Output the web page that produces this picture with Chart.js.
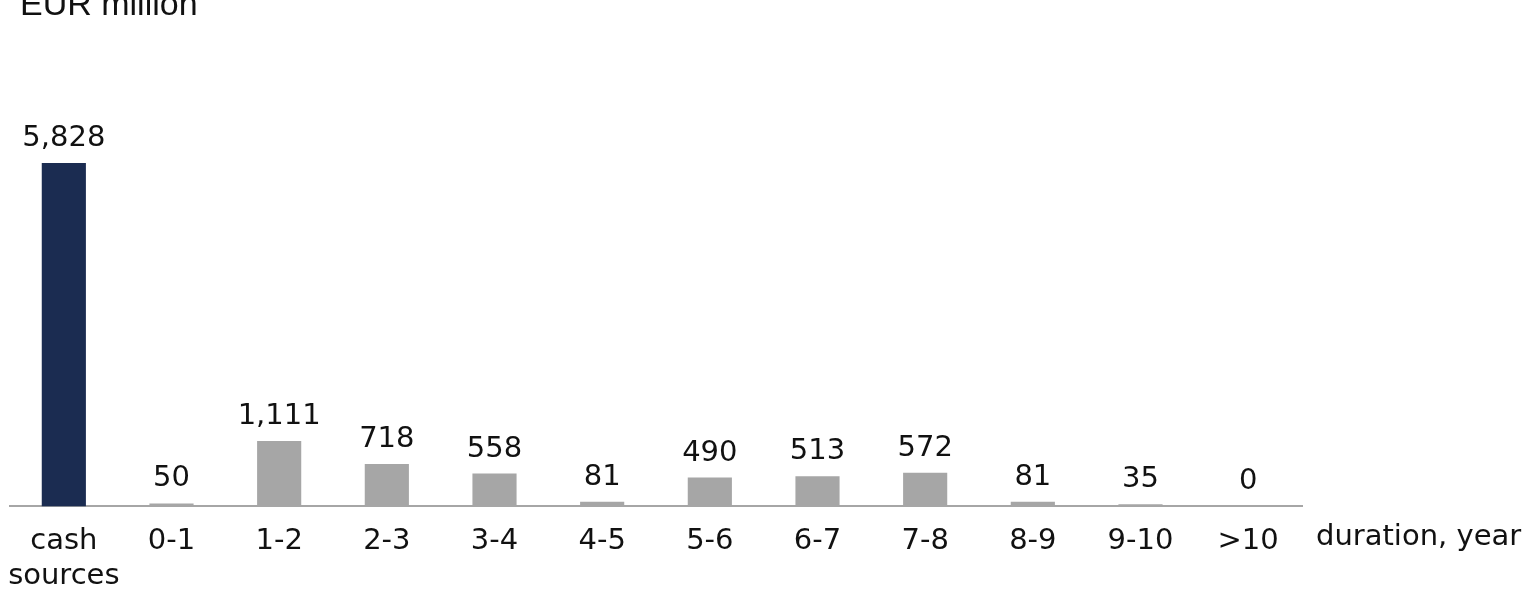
<!DOCTYPE html>
<html>
<head>
<meta charset="utf-8">
<script src="https://cdn.jsdelivr.net/npm/chart.js@4"></script>
<style>
    html, body { margin: 0; padding: 0; background: #fff; }
    #wrap { width: 1529px; height: 589px; }
</style>
</head>
<body>
<div id="wrap"><canvas id="grafico"></canvas></div>
<script>
// --- DADOS ---
const categorias = [['cash', 'sources'], '0-1', '1-2', '2-3', '3-4', '4-5', '5-6', '6-7', '7-8', '8-9', '9-10', '>10'];
const valores = [5828, 50, 1111, 718, 558, 81, 490, 513, 572, 81, 35, 0];
const cores = ['#1b2c51', '#a6a6a6', '#a6a6a6', '#a6a6a6', '#a6a6a6', '#a6a6a6', '#a6a6a6', '#a6a6a6', '#a6a6a6', '#a6a6a6', '#a6a6a6', '#a6a6a6'];
const tituloY = 'EUR million';
const tituloX = 'duration, year';

const fonte = 'DejaVu Sans, Verdana, sans-serif';

// rótulos de valor acima das barras + textos soltos
const rotulosPlugin = {
    id: 'rotulos',
    afterDatasetsDraw(chart) {
        const ctx = chart.ctx;
        const meta = chart.getDatasetMeta(0);
        ctx.save();
        ctx.font = `29px ${fonte}`;
        ctx.fillStyle = '#111';
        ctx.textAlign = 'center';
        ctx.textBaseline = 'alphabetic';
        meta.data.forEach((bar, i) => {
            ctx.fillText(valores[i].toLocaleString('en-US'), bar.x, bar.y - 17);
        });

        ctx.textAlign = 'left';
        ctx.fillText(tituloX, 1316, 545);

        ctx.font = '34px "Liberation Sans", Arial, sans-serif';
        ctx.fillText(tituloY, 20, 15);
        ctx.restore();
    }
};

new Chart(document.getElementById('grafico'), {
    type: 'bar',
    data: {
        labels: categorias,
        datasets: [{
            data: valores,
            backgroundColor: cores,
            borderWidth: 0,
            categoryPercentage: 1,
            barPercentage: 0.41
        }]
    },
    options: {
        responsive: true,
        maintainAspectRatio: false,
        animation: false,
        layout: { padding: { left: 10, right: 227, top: 100, bottom: -23 } },
        plugins: {
            legend: { display: false },
            tooltip: { enabled: false },
            title: { display: false }
        },
        scales: {
            x: {
                grid: { display: false, drawTicks: false },
                border: { display: true, color: '#a6a6a6', width: 2 },
                ticks: {
                    color: '#111',
                    font: { family: fonte, size: 29, lineHeight: 1.2 },
                    padding: 18,
                    maxRotation: 0,
                    autoSkip: false
                },
                // o rótulo "sources" não deve empurrar a área do gráfico
                afterFit: (scale) => { scale.paddingLeft = 0; }
            },
            y: {
                display: false,
                min: 0,
                max: 6899
            }
        }
    },
    plugins: [rotulosPlugin]
});
</script>
</body>
</html>
